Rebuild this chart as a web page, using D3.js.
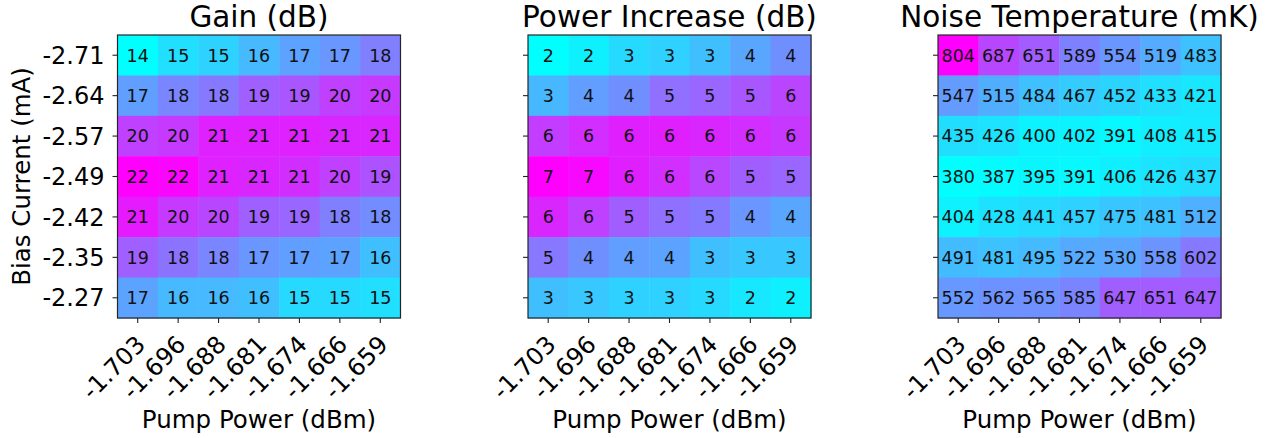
<!DOCTYPE html>
<html>
<head>
<meta charset="utf-8">
<script src="https://cdn.jsdelivr.net/npm/d3@7"></script>
<style>
  html, body { margin: 0; padding: 0; background: #ffffff; }
  svg { display: block; }
  text { font-family: "DejaVu Sans", sans-serif; fill: #000; }
</style>
</head>
<body>
<svg id="chart" width="1284" height="438"></svg>
<script>
// ---- data (annotated values; decimals) ----
const pumpPower = ["-1.703", "-1.696", "-1.688", "-1.681", "-1.674", "-1.666", "-1.659"];
const biasCurrent = ["-2.71", "-2.64", "-2.57", "-2.49", "-2.42", "-2.35", "-2.27"];

const gainValues = [
  [14.0, 15.0, 15.4, 16.2, 16.9, 17.3, 18.0],
  [17.0, 17.8, 18.2, 19.0, 19.3, 20.0, 20.2],
  [20.0, 20.2, 21.0, 21.0, 21.0, 20.8, 20.8],
  [22.0, 21.8, 21.0, 20.8, 20.6, 20.0, 19.4],
  [21.2, 20.2, 19.8, 19.0, 18.8, 18.0, 17.6],
  [19.0, 18.4, 17.8, 17.3, 17.0, 16.9, 16.0],
  [16.9, 16.2, 16.2, 16.0, 15.2, 15.2, 15.0]
];
const powerIncreaseValues = [
  [2.0, 2.3, 2.75, 2.9, 3.25, 3.75, 4.2],
  [3.4, 3.9, 4.2, 4.8, 5.0, 5.3, 5.65],
  [5.8, 6.1, 6.4, 6.4, 6.25, 6.1, 5.9],
  [7.0, 6.85, 6.4, 6.1, 5.6, 5.15, 5.0],
  [6.25, 5.75, 5.15, 4.8, 4.6, 4.05, 3.75],
  [4.65, 4.2, 3.9, 3.8, 3.25, 3.1, 3.1],
  [3.25, 3.1, 2.9, 2.9, 2.75, 2.45, 2.3]
];
const noiseTempValues = [
  [804, 687, 651, 589, 554, 519, 483],
  [547, 515, 484, 467, 452, 433, 421],
  [435, 426, 400, 402, 391, 408, 415],
  [380, 387, 395, 391, 406, 426, 437],
  [404, 428, 441, 457, 475, 481, 512],
  [491, 481, 495, 522, 530, 558, 602],
  [552, 562, 565, 585, 647, 651, 647]
];
const panelTitles = ["Gain (dB)", "Power Increase (dB)", "Noise Temperature (mK)"];
const xAxisLabel = "Pump Power (dBm)";
const yAxisLabel = "Bias Current (mA)";

// ---- layout ----
const panels = [
  { title: panelTitles[0], data: gainValues, x0: 117.5, showYLabels: true },
  { title: panelTitles[1], data: powerIncreaseValues, x0: 528, showYLabels: false },
  { title: panelTitles[2], data: noiseTempValues, x0: 938, showYLabels: false }
];
const size = 283;
const y0 = 35;

// matplotlib "cool" colormap
const cool = t => d3.rgb(255 * t, 255 * (1 - t), 255).toString();
const fmt = d3.format(".0f");

const svg = d3.select("#chart");

panels.forEach(p => {
  const g = svg.append("g");
  const x = d3.scaleBand().domain(d3.range(pumpPower.length)).range([p.x0, p.x0 + size]).padding(0);
  const y = d3.scaleBand().domain(d3.range(biasCurrent.length)).range([y0, y0 + size]).padding(0);
  const flat = p.data.flat();
  const c = d3.scaleLinear().domain(d3.extent(flat)).range([0, 1]);

  const cells = [];
  p.data.forEach((row, i) => row.forEach((v, j) => cells.push({ i, j, v })));

  g.selectAll("rect.cell").data(cells).enter().append("rect")
    .attr("class", "cell")
    .attr("x", d => x(d.j))
    .attr("y", d => y(d.i))
    .attr("width", x.bandwidth() + 0.5)
    .attr("height", y.bandwidth() + 0.5)
    .attr("fill", d => cool(c(d.v)));

  g.selectAll("text.ann").data(cells).enter().append("text")
    .attr("class", "ann")
    .attr("x", d => x(d.j) + x.bandwidth() / 2)
    .attr("y", d => y(d.i) + y.bandwidth() / 2)
    .attr("dy", "0.36em")
    .attr("text-anchor", "middle")
    .style("font-size", "17.5px")
    .style("fill", "#111")
    .text(d => fmt(d.v));

  // frame
  g.append("rect")
    .attr("x", p.x0).attr("y", y0).attr("width", size).attr("height", size)
    .attr("fill", "none").attr("stroke", "#262626").attr("stroke-width", 1.2);

  // y axis ticks
  const yAxis = d3.axisLeft(d3.scaleBand().domain(biasCurrent).range([y0, y0 + size]))
    .tickSize(5).tickSizeOuter(0).tickPadding(7);
  const ya = g.append("g").attr("transform", `translate(${p.x0},0)`).call(yAxis);
  ya.select(".domain").remove();
  ya.selectAll(".tick line").attr("stroke", "#222").attr("stroke-width", 1.1);
  ya.selectAll(".tick text")
    .style("font-size", "24px")
    .style("font-family", "DejaVu Sans")
    .attr("fill", "#000")
    .attr("x", -13)
    .attr("dy", "0.36em");
  if (!p.showYLabels) ya.selectAll(".tick text").remove();

  // x axis ticks
  const xAxis = d3.axisBottom(d3.scaleBand().domain(pumpPower).range([p.x0, p.x0 + size]))
    .tickSize(5).tickSizeOuter(0);
  const xa = g.append("g").attr("transform", `translate(0,${y0 + size})`).call(xAxis);
  xa.select(".domain").remove();
  xa.selectAll(".tick line").attr("stroke", "#222").attr("stroke-width", 1.1);
  xa.selectAll(".tick text")
    .style("font-size", "24px")
    .style("font-family", "DejaVu Sans")
    .attr("fill", "#000")
    .attr("text-anchor", "end")
    .attr("dy", null)
    .attr("y", null)
    .attr("transform", "translate(9,28) rotate(-45)");

  // title
  g.append("text")
    .attr("x", p.x0 + size / 2).attr("y", 27)
    .attr("text-anchor", "middle")
    .style("font-size", "29.5px")
    .text(p.title);

  // x label
  g.append("text")
    .attr("x", p.x0 + size / 2).attr("y", 428)
    .attr("text-anchor", "middle")
    .style("font-size", "24.5px")
    .text(xAxisLabel);
});

// y label
svg.append("text")
  .attr("transform", `translate(30,${y0 + size / 2}) rotate(-90)`)
  .attr("text-anchor", "middle")
  .style("font-size", "24.5px")
  .text(yAxisLabel);
</script>
</body>
</html>
